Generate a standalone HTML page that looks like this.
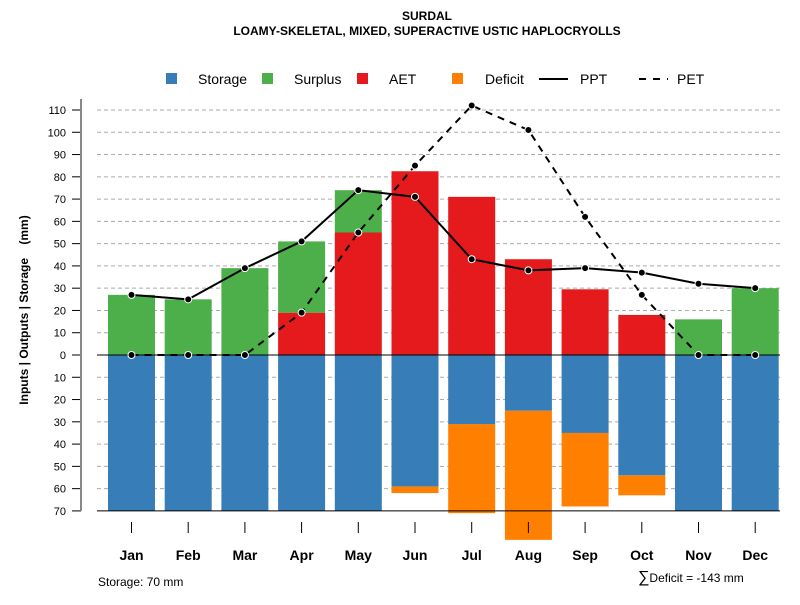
<!DOCTYPE html>
<html><head><meta charset="utf-8"><style>
body{margin:0;background:#fff;font-family:"Liberation Sans",Arial,sans-serif;}
svg text{font-family:"Liberation Sans",Arial,sans-serif;}
</style></head><body>
<svg id="chart" width="800" height="600">
<text x="427" y="20" text-anchor="middle" font-size="12" font-weight="bold">SURDAL</text>
<text x="427" y="35" text-anchor="middle" font-size="12" font-weight="bold">LOAMY-SKELETAL, MIXED, SUPERACTIVE USTIC HAPLOCRYOLLS</text>
<g>
<rect x="166" y="73" width="11" height="11" fill="#377eb8"/>
<text x="198" y="84" font-size="14">Storage</text>
<rect x="262" y="73" width="11" height="11" fill="#4daf4a"/>
<text x="294" y="84" font-size="14">Surplus</text>
<rect x="357" y="73" width="11" height="11" fill="#e41a1c"/>
<text x="389" y="84" font-size="14">AET</text>
<rect x="452" y="73" width="11" height="11" fill="#ff7f00"/>
<text x="485" y="84" font-size="14">Deficit</text>
<line x1="539" y1="79" x2="568" y2="79" stroke="#000" stroke-width="2"/>
<text x="580" y="84" font-size="14">PPT</text>
<line x1="639" y1="79" x2="668" y2="79" stroke="#000" stroke-width="2" stroke-dasharray="7,7"/>
<text x="677" y="84" font-size="14">PET</text>
</g>
<text transform="translate(28,310) rotate(-90)" text-anchor="middle" font-size="12" font-weight="bold" style="white-space:pre" xml:space="preserve">Inputs | Outputs | Storage    (mm)</text>
<text x="98" y="586" font-size="12">Storage: 70 mm</text>
<text x="638" y="582" font-size="12"><tspan font-size="16">∑</tspan>Deficit = -143 mm</text>
<g id="grid"></g><g id="bars"></g><g id="lines"></g><g id="axes"></g>
</svg>
<script>
const months=["Jan","Feb","Mar","Apr","May","Jun","Jul","Aug","Sep","Oct","Nov","Dec"];
const ppt=[27,25,39,51,74,71,43,38,39,37,32,30];
const pet=[0,0,0,19,55,85,112,101,62,27,0,0];
const aet=[0,0,0,19,55,82.5,71,43,29.5,18,0,0];
const surplus=[27,25,39,32,19,0,0,0,0,0,16,30];
const storage=[70,70,70,70,70,59,31,25,35,54,70,70];
const deficitEnd=[0,0,0,0,0,62,71,83,68,63,0,0];
const yTicks=[110,100,90,80,70,60,50,40,30,20,10,0,-10,-20,-30,-40,-50,-60,-70];
const NS="http://www.w3.org/2000/svg";
const y=v=>355-v*2.2273;
const x=i=>131.5+i*56.7;
const BW=47;
function mk(tag,attrs,parent,txt){const e=document.createElementNS(NS,tag);for(const k in attrs)e.setAttribute(k,attrs[k]);if(txt!==undefined)e.textContent=txt;document.getElementById(parent).appendChild(e);return e;}
yTicks.forEach(t=>{
 if(t!==-70){const g=mk('line',{x1:97,x2:780,y1:y(t),y2:y(t),stroke:'#aaa','stroke-dasharray':'4,3'},'grid');
 
 }
 const tk=mk('line',{x1:72,x2:81,y1:y(t),y2:y(t),stroke:'#000'},'axes');
 
 
 const lb=mk('text',{x:66,y:y(t)+4,'text-anchor':'end','font-size':11},'axes',String(Math.abs(t)));
 
 
});
const ax=mk('line',{x1:81,x2:81,y1:y(115),y2:y(-70),stroke:'#888','stroke-width':2},'axes');


function bar(i,a,b,c,name){const r=mk('rect',{x:x(i)-BW/2,y:y(Math.max(a,b)),width:BW,height:Math.abs(y(a)-y(b)),fill:c},'bars');
 
 }
months.forEach((m,i)=>{
 if(deficitEnd[i]>0) bar(i,-storage[i],-deficitEnd[i],'#ff7f00','bar-deficit-'+m.toLowerCase());
 bar(i,0,-storage[i],'#377eb8','bar-storage-'+m.toLowerCase());
 if(aet[i]>0) bar(i,0,aet[i],'#e41a1c','bar-aet-'+m.toLowerCase());
 if(surplus[i]>0) bar(i,aet[i],aet[i]+surplus[i],'#4daf4a','bar-surplus-'+m.toLowerCase());
 const t=mk('line',{x1:x(i),x2:x(i),y1:522,y2:533,stroke:'#000'},'axes');
 
 
 const l=mk('text',{x:x(i),y:560,'text-anchor':'middle','font-size':14,'font-weight':'bold'},'axes',m);
 
 
});
const zl=mk('line',{x1:97,x2:780,y1:y(0),y2:y(0),stroke:'#000'},'bars');


const bl=mk('line',{x1:97,x2:780,y1:y(-70),y2:y(-70),stroke:'#000'},'bars');


function series(arr,name,dash){
 const p=mk('polyline',{points:arr.map((v,i)=>x(i)+','+y(v)).join(' '),fill:'none',stroke:'#000','stroke-width':2,'stroke-dasharray':dash},'lines');
 
 
 arr.forEach((v,i)=>{const c=mk('circle',{cx:x(i),cy:y(v),r:3.5,fill:'#000',stroke:'#fff','stroke-width':1},'lines');
 
 });
}
series(pet,'pet','7,6');
series(ppt,'ppt','none');
</script>
</body></html>
